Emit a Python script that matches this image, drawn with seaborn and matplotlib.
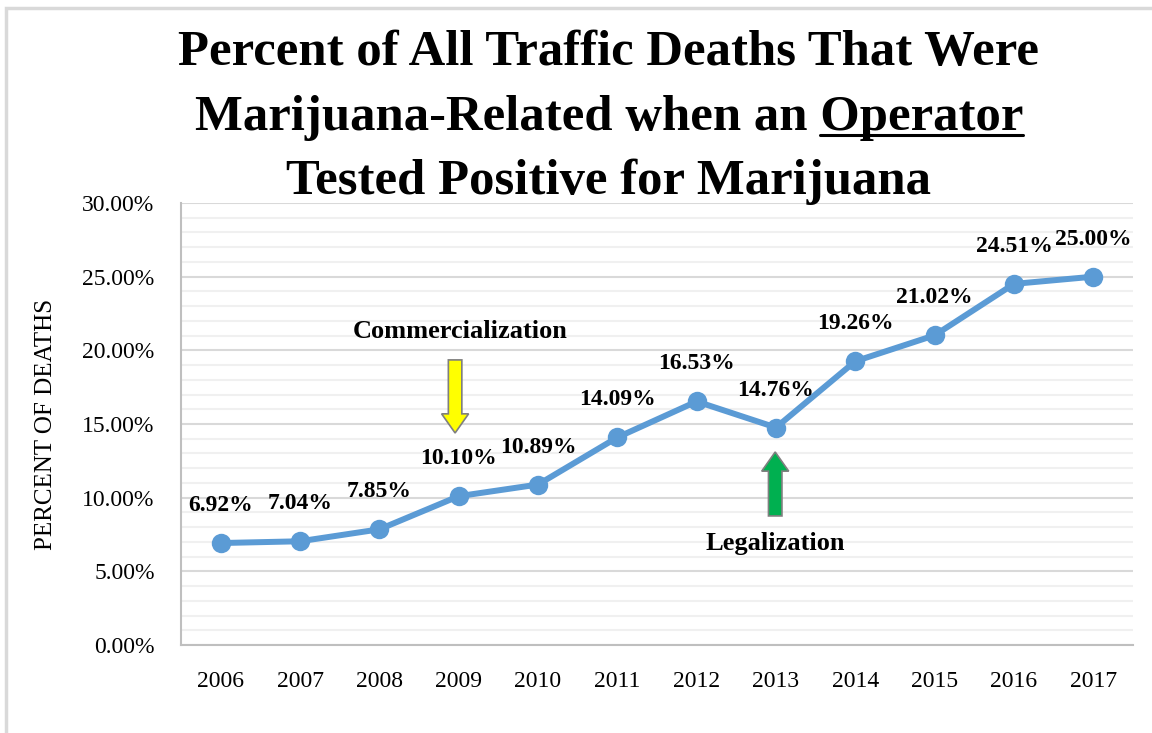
import matplotlib
matplotlib.use("Agg")
import matplotlib.pyplot as plt
import seaborn as sns
import pandas as pd
from matplotlib.patches import FancyArrow, Rectangle
from matplotlib.lines import Line2D
from matplotlib.ticker import MultipleLocator, FuncFormatter

# Data
years = ["2006", "2007", "2008", "2009", "2010", "2011",
         "2012", "2013", "2014", "2015", "2016", "2017"]
pct_deaths = [6.92, 7.04, 7.85, 10.10, 10.89, 14.09,
              16.53, 14.76, 19.26, 21.02, 24.51, 25.00]

title_lines = ["Percent of All Traffic Deaths That Were",
               "Marijuana-Related when an Operator",
               "Tested Positive for Marijuana"]
underlined_word = "Operator"
y_label = "PERCENT OF DEATHS"

df = pd.DataFrame({"year": years, "pct": pct_deaths})
df["pos"] = range(len(df))

sns.set_theme(style="white")
plt.rcParams["font.family"] = ["Liberation Serif", "DejaVu Serif"]
plt.rcParams["text.color"] = "black"
plt.rcParams["axes.labelcolor"] = "black"
plt.rcParams["xtick.color"] = "black"
plt.rcParams["ytick.color"] = "black"

fig = plt.figure(figsize=(11.52, 7.33), dpi=100)
ax = fig.add_axes([181 / 1152, 1 - 645 / 733, (1133 - 181) / 1152, (645 - 203) / 733])

LINE_BLUE = "#5B9BD5"
sns.lineplot(data=df, x="pos", y="pct", ax=ax, color=LINE_BLUE, linewidth=4.3,
             marker="o", markersize=14, markeredgewidth=0, legend=False)

# data labels
for _, row in df.iterrows():
    ax.annotate(f"{row.pct:.2f}%", (row.pos, row.pct), xytext=(0, 27),
                textcoords="offset points", ha="center", va="center",
                fontsize=17, fontweight="bold", color="black")

ax.set_xlim(-0.5, len(years) - 0.5)
ax.set_ylim(0, 30)
ax.set_xticks(df["pos"])
ax.set_xticklabels(years)
ax.yaxis.set_major_locator(MultipleLocator(5))
ax.yaxis.set_minor_locator(MultipleLocator(1))
ax.yaxis.set_major_formatter(FuncFormatter(lambda v, _: f"{v:.2f}%"))
ax.grid(axis="y", which="major", color="#d9d9d9", linewidth=1.5)
ax.grid(axis="y", which="minor", color="#f0f0f0", linewidth=1.5)
ax.set_axisbelow(True)
ax.tick_params(axis="both", which="both", length=0, labelsize=17, pad=19)
ax.set_xlabel("")
ax.set_ylabel(y_label, fontsize=18, labelpad=18)
for side in ["top", "right"]:
    ax.spines[side].set_visible(False)
for side in ["left", "bottom"]:
    ax.spines[side].set_color("#bfbfbf")
    ax.spines[side].set_linewidth(1.5)

# event arrows and labels
ax.add_patch(FancyArrow(2.955, 19.35, 0, -4.96, width=0.17, head_width=0.34,
                        head_length=1.3, length_includes_head=True,
                        facecolor="#FFFF00", edgecolor="#7f7f7f", linewidth=1.2))
ax.text(3.02, 21.25, "Commercialization", ha="center", va="center",
        fontsize=19, fontweight="bold")
ax.add_patch(FancyArrow(6.99, 8.76, 0, 4.34, width=0.17, head_width=0.34,
                        head_length=1.3, length_includes_head=True,
                        facecolor="#00B050", edgecolor="#7f7f7f", linewidth=1.2))
ax.text(6.99, 6.86, "Legalization", ha="center", va="center",
        fontsize=19, fontweight="bold")

# title, drawn line by line so one word can be underlined
title_x = 609 / 1152
baselines = [65, 130, 194]
title_texts = []
for line, base in zip(title_lines, baselines):
    t = fig.text(title_x, 1 - base / 733, line, ha="center", va="baseline",
                 fontsize=36.5, fontweight="bold")
    title_texts.append(t)

fig.canvas.draw()
renderer = fig.canvas.get_renderer()
line2 = title_texts[1]
ext = line2.get_window_extent(renderer)
probe = fig.text(0, 0, underlined_word, fontsize=36.5, fontweight="bold")
w_word = probe.get_window_extent(renderer).width
probe.remove()
u_y = (1 - baselines[1] / 733) * 733 - 5
fig.add_artist(Line2D([ext.x1 - w_word, ext.x1], [u_y, u_y], color="black",
                      linewidth=2.2, transform=None))

# outer chart border (left and top visible)
fig.add_artist(Rectangle((6 / 1152, -0.1), 1.2, (733 - 8) / 733 + 0.1,
                         transform=fig.transFigure, fill=False,
                         edgecolor="#d9d9d9", linewidth=2.5))

fig.savefig("out.png", dpi=100)
